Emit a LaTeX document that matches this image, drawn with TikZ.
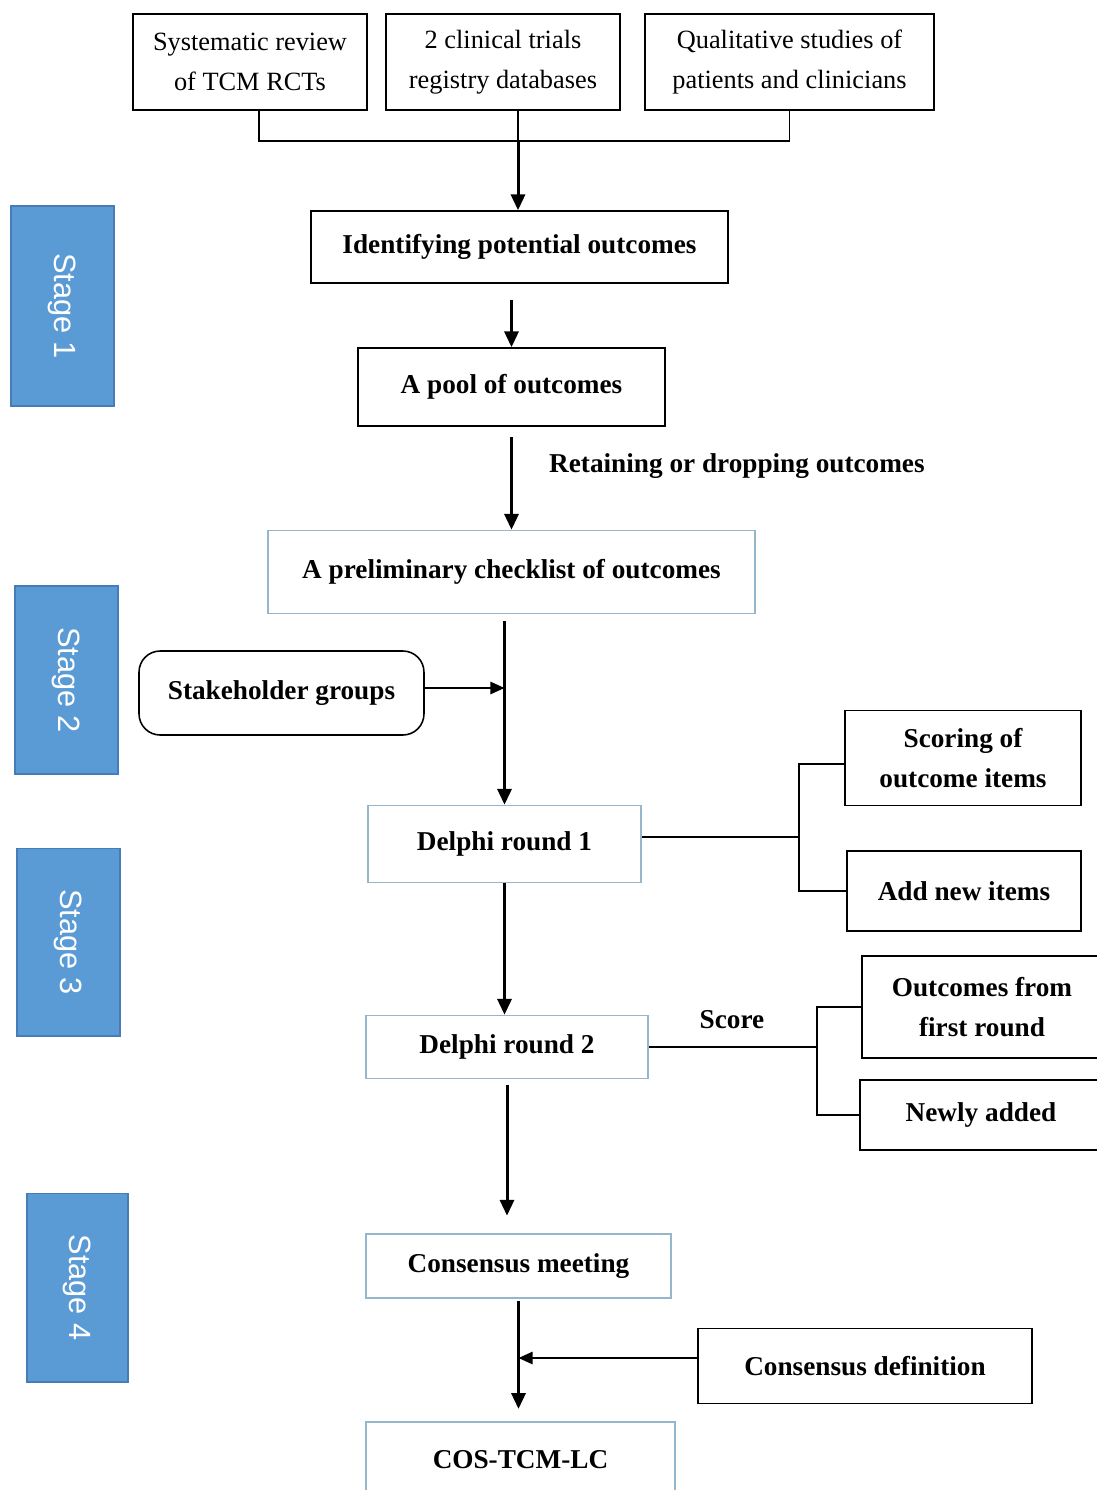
\documentclass[tikz,border=0pt]{standalone}
\usepackage{fontspec}
\setmainfont{Liberation Serif}
\newfontfamily\stagefont{Liberation Sans}
\usetikzlibrary{arrows.meta}
\definecolor{stageblue}{RGB}{91,155,213}
\definecolor{stageedge}{RGB}{70,125,185}
\definecolor{paleedge}{RGB}{150,182,204}
\tikzset{
  srcbox/.style={draw=black, line width=0.9pt, inner sep=0pt, align=center,
    font=\fontsize{15}{23}\selectfont},
  blackbox/.style={draw=black, line width=0.9pt, inner sep=0pt, align=center,
    font=\fontsize{15.5}{23}\selectfont\bfseries},
  bluebox/.style={blackbox, draw=paleedge},
  stagebox/.style={fill=stageblue, draw=stageedge, line width=0.6pt, rotate=-90,
    inner sep=0pt, text=white, font=\stagefont\fontsize{17.5}{20}\selectfont},
  arr/.style={line width=1.7pt, -{Triangle[length=9pt,width=8pt]}},
  thin/.style={line width=1pt},
  thinarr/.style={line width=1pt, -{Triangle[length=8pt,width=7pt]}}
}
\begin{document}
\begin{tikzpicture}[x=0.02cm, y=-0.02cm]
\useasboundingbox (0,0) rectangle (1097,1490);
% stages
\node[stagebox, minimum width=4cm, minimum height=2.06cm] (st1) at (62.5,306) {Stage 1};
\node[stagebox, minimum width=3.76cm, minimum height=2.06cm] (st2) at (66.5,680) {Stage 2};
\node[stagebox, minimum width=3.76cm, minimum height=2.06cm] (st3) at (68.5,942) {Stage 3};
\node[stagebox, minimum width=3.78cm, minimum height=2.02cm] (st4) at (77.5,1287.5) {Stage 4};
% sources
\node[srcbox, minimum width=4.68cm, minimum height=1.92cm] (sys) at (250,62) {Systematic review\\of TCM RCTs};
\node[srcbox, minimum width=4.68cm, minimum height=1.92cm] (reg) at (503,62) {2 clinical trials\\registry databases};
\node[srcbox, minimum width=5.78cm, minimum height=1.92cm] (qual) at (789.5,62) {Qualitative studies of\\patients and clinicians};
% main column
\node[blackbox, minimum width=8.34cm, minimum height=1.44cm] (ident) at (519.5,247) {Identifying potential outcomes};
\node[blackbox, minimum width=6.14cm, minimum height=1.56cm] (pool) at (511.5,387) {A pool of outcomes};
\node[bluebox, minimum width=9.74cm, minimum height=1.66cm] (prelim) at (511.5,572) {A preliminary checklist of outcomes};
\node[blackbox, rounded corners=12pt, minimum width=5.7cm, minimum height=1.68cm] (stake) at (281.5,693) {Stakeholder groups};
\node[bluebox, minimum width=5.46cm, minimum height=1.54cm] (d1) at (504.5,844) {Delphi round 1};
\node[bluebox, minimum width=5.64cm, minimum height=1.26cm] (d2) at (507,1047) {Delphi round 2};
\node[bluebox, minimum width=6.1cm, minimum height=1.28cm] (cons) at (518.5,1266) {Consensus meeting};
\node[bluebox, minimum width=6.18cm, minimum height=1.52cm] (cos) at (520.5,1460) {COS-TCM-LC};
% side boxes
\node[blackbox, minimum width=4.72cm, minimum height=1.9cm] (scoring) at (963,758) {Scoring of\\outcome items};
\node[blackbox, minimum width=4.68cm, minimum height=1.6cm] (add) at (964,891) {Add new items};
\node[blackbox, minimum width=4.8cm, minimum height=2.04cm] (first) at (982,1007) {Outcomes from\\first round};
\node[blackbox, minimum width=4.84cm, minimum height=1.4cm] (newly) at (981,1115) {Newly added};
\node[blackbox, minimum width=6.68cm, minimum height=1.5cm] (def) at (865,1366) {Consensus definition};
% labels
\node[anchor=west, font=\fontsize{15.5}{19}\selectfont\bfseries] (keep) at (543,466) {Retaining or dropping outcomes};
\node[font=\fontsize{15.5}{19}\selectfont\bfseries] (score) at (732,1020) {Score};
% connectors
\coordinate (join) at (518,141);
\draw[thin] ([xshift=0.18cm]sys.south) |- (join) -| (qual.south);
\draw[thin] (reg.south -| join) -- (join);
\draw[arr] (join) -- (ident.north -| join);
\draw[arr, shorten <=9pt] (ident.south -| pool.north) -- (pool.north);
\draw[arr, shorten <=6pt] (pool.south) -- (prelim.north);
\draw[arr, shorten <=4pt] (prelim.south -| d1.north) -- (d1.north);
\draw[thinarr] ([yshift=0.1cm]stake.east) -- ([yshift=0.1cm]stake.east -| d1.north);
\draw[arr] (d1.south) -- (d1.south |- d2.north);
\draw[arr, shorten <=3pt, shorten >=10pt] (d2.south) -- (d2.south |- cons.north);
\draw[arr, shorten <=1pt, shorten >=7pt] (cons.south) -- (cons.south |- cos.north);
\draw[thinarr] ([yshift=0.16cm]def.west) -- ([yshift=0.16cm]def.west -| cons.south);
\draw[thin] ([yshift=0.14cm]d1.east) -- ++(157,0) coordinate (f1);
\draw[thin] ([yshift=-0.12cm]scoring.west) -| (f1) |- (add.west);
\draw[thin] (d2.east) -- ++(168,0) coordinate (f2);
\draw[thin] (first.west) -| (f2) |- (newly.west);
\end{tikzpicture}
\end{document}
